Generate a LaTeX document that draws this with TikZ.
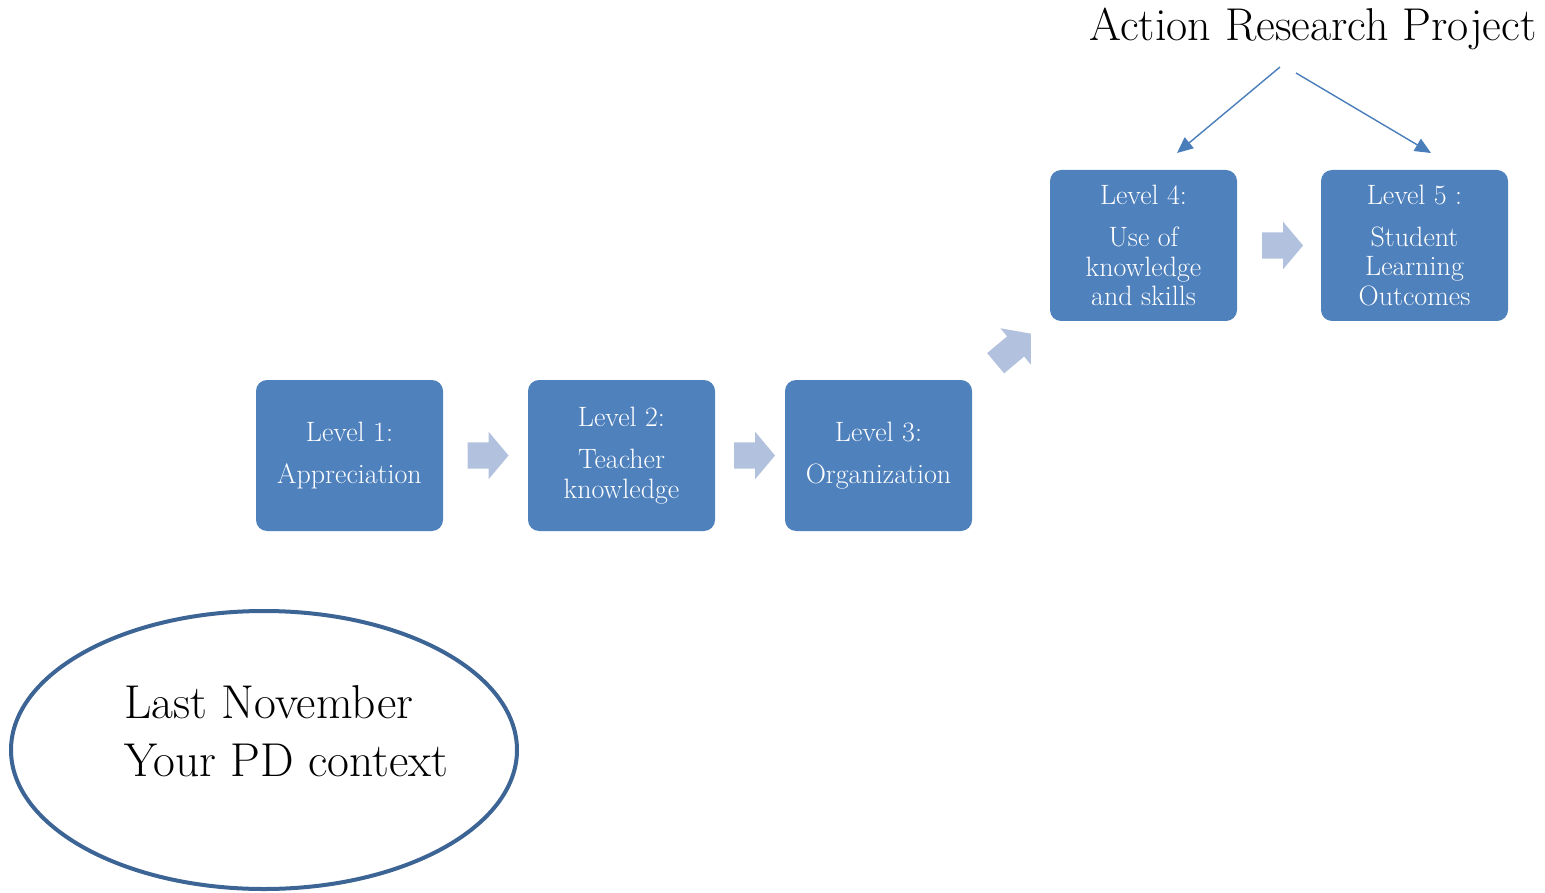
\documentclass[tikz,border=0pt]{standalone}
\usetikzlibrary{shapes.arrows,shapes.geometric,arrows.meta,calc}
\definecolor{levelblue}{HTML}{4F81BD}
\definecolor{stepgrey}{HTML}{B2C2DE}
\definecolor{linkblue}{HTML}{4A7EBB}
\definecolor{rimblue}{HTML}{3C6494}
\begin{document}
\begin{tikzpicture}[x=1pt,y=-1pt,
  levelbox/.style={rectangle, rounded corners=11pt, fill=levelblue,
    minimum width=187pt, minimum height=151pt, inner sep=0pt,
    text=white, align=center, font=\fontsize{28}{29.5}\selectfont},
  stepper/.style={single arrow, fill=stepgrey, draw=none, inner xsep=0pt,
    inner ysep=13pt, minimum height=41pt, single arrow head extend=10.5pt,
    single arrow tip angle=100},
  link/.style={draw=linkblue, line width=1.4pt,
    -{Triangle[length=16pt,width=14pt]}},
  bigtext/.style={font=\fontsize{47.5}{58}\selectfont, inner sep=0pt}]
\useasboundingbox (0,0) rectangle (1545,893);

% the five levels
\node[levelbox] (l1) at (349.5,455.5) {Level 1:\\[12pt]Appreciation};
\node[levelbox] (l2) at (621.5,455.5) {Level 2:\\[12.5pt]Teacher\\knowledge};
\node[levelbox] (l3) at (878.5,455.5) {Level 3:\\[12pt]Organization};
\node[levelbox] (l4) at (1143.5,245.5) {Level 4:\\[12.5pt]Use of\\knowledge\\and skills};
\node[levelbox] (l5) at (1414.5,245.5) {Level 5 :\\[12.5pt]Student\\Learning\\Outcomes};

% steps between the levels
\node[stepper] (s12) at ($(l1.east)!0.5!(l2.west)+(-3,0)$) {};
\node[stepper] (s23) at ($(l2.east)!0.5!(l3.west)+(-1,0)$) {};
\node[stepper, rotate=40, minimum height=46pt] (s34) at (1009,352) {};
\node[stepper] (s45) at ($(l4.east)!0.5!(l5.west)+(-2,0)$) {};

% project heading and its links to levels 4 and 5
\node[font=\fontsize{46}{52}\selectfont, inner sep=0pt, anchor=base]
  (arp) at (1313,41) {Action Research Project};
\coordinate (from4) at (1280,67);
\coordinate (from5) at (1296,73);
\coordinate (to4) at (1177,153);
\coordinate (to5) at (1431,153);
\draw[link] (from4) -- (to4);
\draw[link] (from5) -- (to5);

% context ellipse
\node[ellipse, draw=rimblue, line width=4pt, minimum width=506pt,
  minimum height=278pt] (ctx) at (264,750) {};
\node[bigtext, anchor=base west] (ctx1) at (124,718) {Last November};
\node[bigtext, anchor=base west] (ctx2) at (124,776) {Your PD context};
\end{tikzpicture}
\end{document}
